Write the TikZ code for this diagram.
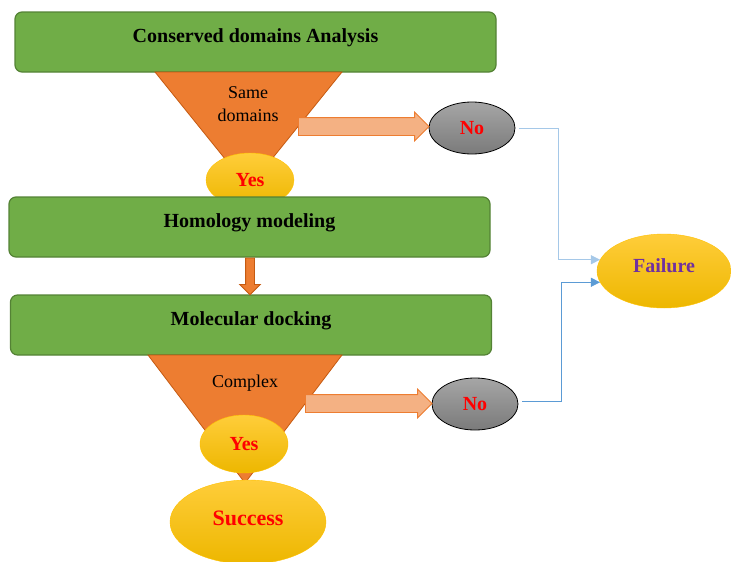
\documentclass[tikz,border=0pt]{standalone}
\usepackage{fontspec}
\setmainfont{Liberation Serif}
\usepackage{tikz}
\usetikzlibrary{shapes, shapes.arrows, calc, arrows.meta}
\definecolor{boxgreen}{HTML}{70AD47}
\definecolor{boxedge}{HTML}{548235}
\definecolor{funnel}{HTML}{ED7D31}
\definecolor{funneledge}{HTML}{C55A11}
\definecolor{salmon}{HTML}{F4B183}
\definecolor{gold}{HTML}{FFC000}
\definecolor{lightgold}{HTML}{FFCD3A}
\definecolor{darkgold}{HTML}{EDB700}
\definecolor{linkblue}{HTML}{5B9BD5}
\definecolor{failpurple}{HTML}{7030A0}
\tikzstyle{stepbox}=[
    draw=boxedge,        % darker green border
    line width=1.2pt,
    rectangle,           % rounded green box
    rounded corners=7pt,
    fill=boxgreen,
    minimum width=481pt,
    minimum height=60pt,
    font=\fontsize{20}{24}\selectfont\bfseries,
    text height=14pt,    % pushes the title a bit above the middle
    text depth=14pt]
\tikzstyle{funnelshape}=[
    fill=funnel,         % orange funnel under a box
    draw=funneledge,
    line width=0.8pt]
\tikzstyle{answer}=[
    ellipse,
    inner sep=0pt,
    text=red,
    font=\fontsize{20}{24}\selectfont\bfseries]
\tikzstyle{yesnode}=[
    answer,
    top color=lightgold, % gold, a little lighter at the top
    bottom color=darkgold,
    draw=gold,
    minimum width=88pt,
    minimum height=54pt]
\tikzstyle{nonode}=[
    answer,
    top color=black!35,  % grey ellipse
    bottom color=black!52,
    draw=black,
    line width=0.8pt,
    minimum width=86pt,
    minimum height=52pt]
\tikzstyle{blockarrow}=[
    single arrow,
    fill=salmon,
    draw=funnel,
    line width=0.8pt,
    inner sep=8.5pt,
    single arrow head extend=5.5pt,
    single arrow head indent=0pt]
\tikzstyle{linkline}=[
    draw=linkblue,
    line width=0.8pt,
    -{Triangle[length=9pt,width=9pt]}]

\begin{document}
\begin{tikzpicture}[x=1pt, y=-1pt]
        \useasboundingbox (0,0) rectangle (731,562);

        % First step and its funnel
        \node[stepbox] (cda) at (255.5,42) {Conserved domains Analysis};
        \coordinate (tl1) at (155,72);
        \coordinate (tr1) at (342,72);
        \coordinate (apex1) at (248.5,188);
        \filldraw[funnelshape] (tl1) -- (tr1) -- (apex1) -- cycle;
        \node[align=center, font=\fontsize{18}{23}\selectfont] (same) at (248,104) {Same\\domains};

        \coordinate (tail1) at (298,126.5);
        \node[nonode] (no1) at (472,128) {No};
        \path let \p1=($(no1.west)-(tail1)$) in
            node[blockarrow, minimum height=\x1, anchor=tail] (arr1) at (tail1) {};
        \node[yesnode] (yes1) at (250,180) {Yes};

        % Homology modeling and docking
        \node[stepbox] (hom) at (249.5,227) {Homology modeling};
        \node[stepbox] (dock) at (251,325) {Molecular docking};
        \path let \p1=($(hom.south)-(dock.north)$) in
            node[single arrow, shape border rotate=270, fill=funnel, draw=funneledge,
                 line width=0.8pt, inner sep=4pt, single arrow head extend=6pt,
                 minimum height=\y1, anchor=tail] (arr2) at ($(hom.south)+(0.5,0)$) {};

        % Second funnel
        \coordinate (tl2) at (148,355);
        \coordinate (tr2) at (342,355);
        \coordinate (apex2) at (245,483);
        \filldraw[funnelshape] (tl2) -- (tr2) -- (apex2) -- cycle;
        \node[font=\fontsize{18}{23}\selectfont] (cplx) at (245,383) {Complex};

        \coordinate (tail2) at (305,403.5);
        \node[nonode] (no2) at (475,404) {No};
        \path let \p1=($(no2.west)-(tail2)$) in
            node[blockarrow, minimum height=\x1, anchor=tail] (arr3) at (tail2) {};
        \node[yesnode, minimum height=58pt] (yes2) at (244,444) {Yes};
        \node[yesnode, minimum width=156pt, minimum height=84pt, text depth=8pt,
              font=\fontsize{22}{26}\selectfont\bfseries] (succ) at (248,522) {Success};

        % Failure
        \node[yesnode, minimum width=134pt, minimum height=74pt, text depth=10pt,
              text=failpurple] (fail) at (664,271) {Failure};

        \draw[linkline, draw=linkblue!55] (no1.east) ++(4,0) -- ++(39,0) |- (fail.170);
        \draw[linkline] ($(no2.east)+(4,-3)$) -- ++(39,0) |- (fail.190);
\end{tikzpicture}
\end{document}
